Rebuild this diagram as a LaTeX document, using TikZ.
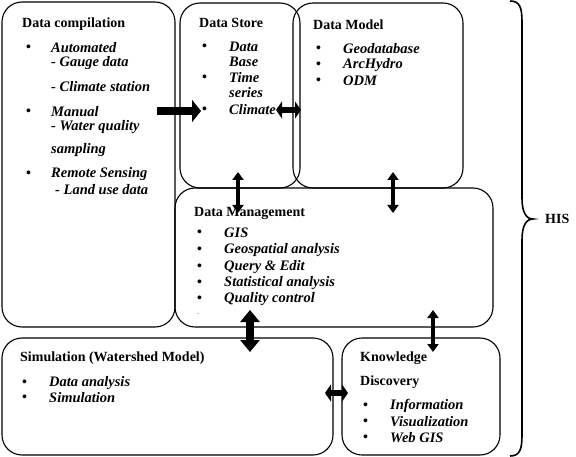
\documentclass[tikz,border=0pt]{standalone}
\usepackage{fontspec}
\setmainfont{Liberation Serif}
\usetikzlibrary{arrows.meta}
\begin{document}
\begin{tikzpicture}[x=1pt, y=-1pt,
    main box/.style = {draw, line width=1.1pt, rounded corners=20pt, inner sep=0pt},
    title/.style = {anchor=west, inner sep=0pt, font=\fontsize{14}{16}\selectfont\bfseries},
    entry/.style = {anchor=west, inner sep=0pt, font=\fontsize{14.5}{16}\selectfont\bfseries\itshape},
    dot/.style = {anchor=west, inner sep=0pt, font=\fontsize{14}{16}\selectfont\bfseries},
    thin link/.style = {line width=4.5pt, {Triangle[length=8pt, width=11pt]}-{Triangle[length=8pt, width=11pt]}},
    short link/.style = {line width=6pt, {Triangle[length=6pt, width=17pt]}-{Triangle[length=6pt, width=17pt]}},
    fat link/.style = {line width=8pt, {Triangle[length=12pt, width=19pt]}-{Triangle[length=12pt, width=19pt]}}]
    \useasboundingbox (0, 0) rectangle (576, 457);

    \node at (88.5, 164.5) [main box, minimum width=173pt, minimum height=325pt] (compile) {};
    \node at (240, 95.5) [main box, minimum width=120pt, minimum height=185pt] (store) {};
    \node at (378, 95.5) [main box, minimum width=170pt, minimum height=185pt] (model) {};
    \node at (334, 257.5) [main box, minimum width=318pt, minimum height=139pt] (manage) {};
    \node at (167.5, 396.5) [main box, minimum width=331pt, minimum height=117pt] (simul) {};
    \node at (421, 396.5) [main box, minimum width=158pt, minimum height=117pt] (know) {};

    \node at (22, 24) [title] (compiletitle) {Data compilation};
    \foreach \y in {48, 112, 174} \node at (26, \y) [dot] {\textbullet};
    \node at (51, 48) [entry] (auto) {Automated};
    \node at (51, 63) [entry] (gauge) {- Gauge data};
    \node at (51, 87) [entry] (climstat) {- Climate station};
    \node at (51, 112) [entry] (manual) {Manual};
    \node at (51, 127) [entry] (water) {- Water quality};
    \node at (51, 150) [entry] (sampling) {sampling};
    \node at (51, 174) [entry] (remote) {Remote Sensing};
    \node at (55, 190) [entry] (landuse) {- Land use data};

    \node at (199, 23) [title] (storetitle) {Data Store};
    \foreach \y in {47, 78, 110} \node at (202, \y) [dot] {\textbullet};
    \node at (229, 47) [entry] (data) {Data};
    \node at (229, 62) [entry] (base) {Base};
    \node at (229, 78) [entry] (time) {Time};
    \node at (229, 93) [entry] (series) {series};
    \node at (229, 110) [entry] (climate) {Climate};

    \node at (313, 25) [title] (modeltitle) {Data Model};
    \foreach \y/\t in {49/Geodatabase, 65/ArcHydro, 81/ODM} {
        \node at (316, \y) [dot] {\textbullet};
        \node at (343, \y) [entry] {\t};
    }

    \node at (194, 213) [title] (managetitle) {Data Management};
    \foreach \y/\t in {233/GIS, 250/Geospatial analysis, 267/Query \& Edit, 283/Statistical analysis, 299/Quality control} {
        \node at (197, \y) [dot] {\textbullet};
        \node at (224, \y) [entry] {\t};
    }
    \node at (197, 315) [dot, font=\tiny] (dash) {-};

    \node at (20, 358) [title] (simultitle) {Simulation (Watershed Model)};
    \foreach \y/\t in {383/Data analysis, 398/Simulation} {
        \node at (22, \y) [dot] {\textbullet};
        \node at (49, \y) [entry] {\t};
    }

    \node at (360, 358) [title] (knowtitle) {Knowledge};
    \node at (360, 382) [title] (knowtitle2) {Discovery};
    \foreach \y/\t in {406/Information, 422/Visualization, 438/Web GIS} {
        \node at (363, \y) [dot] {\textbullet};
        \node at (390, \y) [entry] {\t};
    }

    \coordinate (feedfrom) at (157, 111);
    \coordinate (feedto) at (201, 111);
    \coordinate (sm1) at (276, 110);
    \coordinate (sm2) at (301, 110);
    \coordinate (sd1) at (238, 172);
    \coordinate (sd2) at (238, 213);
    \coordinate (md1) at (393, 172);
    \coordinate (md2) at (393, 213);
    \coordinate (ds1) at (250, 310);
    \coordinate (ds2) at (250, 352);
    \coordinate (dk1) at (433, 310);
    \coordinate (dk2) at (433, 352);
    \coordinate (sk1) at (325, 393);
    \coordinate (sk2) at (348, 393);

    \draw [line width=8pt, -{Triangle[length=9pt, width=22pt]}] (feedfrom) -- (feedto);
    \draw [short link] (sm1) -- (sm2);
    \draw [thin link] (sd1) -- (sd2);
    \draw [thin link] (md1) -- (md2);
    \draw [fat link] (ds1) -- (ds2);
    \draw [thin link] (dk1) -- (dk2);
    \draw [short link] (sk1) -- (sk2);

    \coordinate (bracetop) at (510, 1);
    \coordinate (bracetip) at (533, 219);
    \coordinate (bracebot) at (510, 456);
    \draw [line width=1.6pt] (bracetop) .. controls (520, 1) and (522, 8) .. (522, 22) -- (522, 198)
        .. controls (522, 212) and (526, 219) .. (bracetip)
        .. controls (526, 219) and (522, 226) .. (522, 240) -- (522, 435)
        .. controls (522, 449) and (520, 456) .. (bracebot);
    \node at (545, 219) [title] (his) {HIS};
\end{tikzpicture}
\end{document}
